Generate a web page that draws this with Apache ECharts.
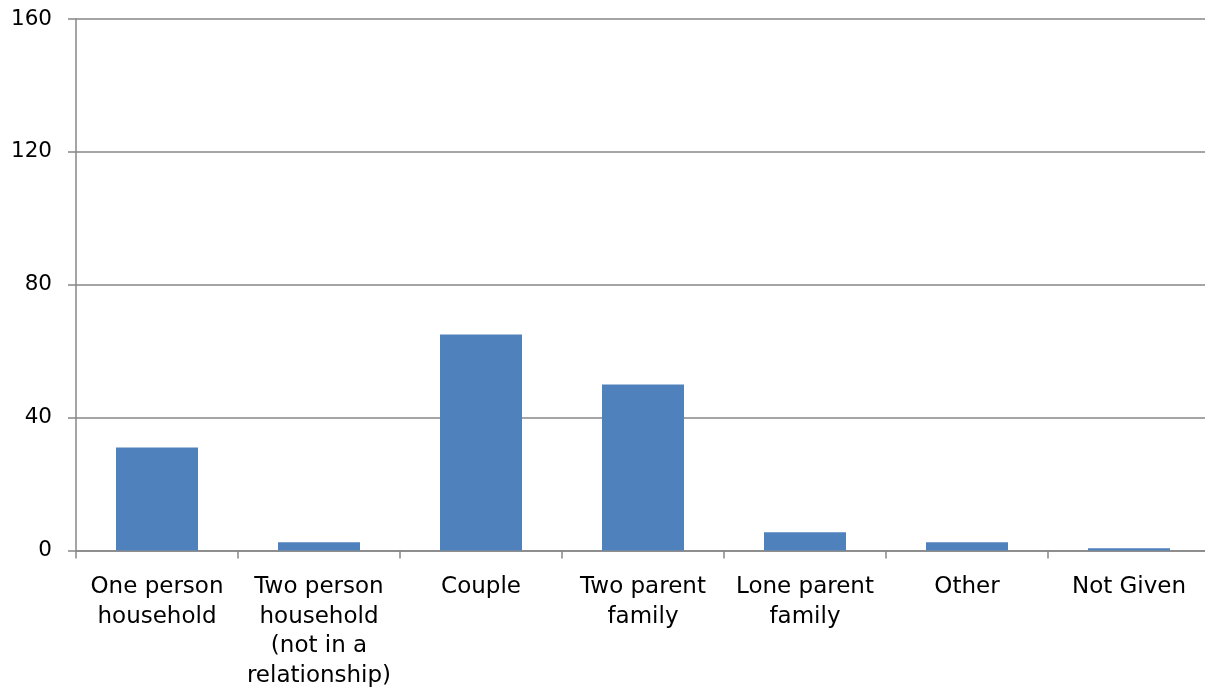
<!DOCTYPE html>
<html>
<head>
<meta charset="utf-8">
<script src="https://cdn.jsdelivr.net/npm/echarts@6/dist/echarts.min.js"></script>
<style>
  html, body { margin: 0; padding: 0; background: #fff; overflow: hidden; }
  /* plot area runs a few pixels past the right edge of the window */
  #chart { width: 1210px; height: 695px; }
</style>
</head>
<body>
<div id="chart"></div>
<script>
// Household types (line breaks as shown under the axis)
const categories = [
  'One person\nhousehold',
  'Two person\nhousehold\n(not in a\nrelationship)',
  'Couple',
  'Two parent\nfamily',
  'Lone parent\nfamily',
  'Other',
  'Not Given'
];
const counts = [31, 2.5, 65, 50, 5.5, 2.5, 0.7];
const yTicks = [0, 40, 80, 120, 160];

const FONT = '"DejaVu Sans", Verdana, sans-serif';
const AXIS_GREY = '#878787';

const chart = echarts.init(document.getElementById('chart'), null, { renderer: 'canvas' });
chart.setOption({
  animation: false,
  backgroundColor: '#ffffff',
  grid: { left: 76, top: 19, right: 0, bottom: 144.5, containLabel: false },
  xAxis: {
    type: 'category',
    data: categories,
    axisLine: { show: true, lineStyle: { color: AXIS_GREY, width: 1.5 } },
    axisTick: { show: true, length: 8, alignWithLabel: false, lineStyle: { color: AXIS_GREY, width: 1.5 } },
    axisLabel: {
      interval: 0,
      margin: 22,
      color: '#000',
      fontFamily: FONT,
      fontSize: 23,
      lineHeight: 29.5,
      align: 'center'
    }
  },
  yAxis: {
    type: 'value',
    min: yTicks[0],
    max: yTicks[yTicks.length - 1],
    interval: yTicks[1] - yTicks[0],
    axisLine: { show: true, lineStyle: { color: AXIS_GREY, width: 1.5 } },
    axisTick: { show: true, length: 8, lineStyle: { color: AXIS_GREY, width: 1.5 } },
    splitLine: { show: true, lineStyle: { color: AXIS_GREY, width: 1.5 } },
    axisLabel: {
      margin: 24,
      color: '#000',
      fontFamily: FONT,
      fontSize: 21.5
    }
  },
  series: [{
    type: 'bar',
    data: counts,
    barWidth: 82,
    itemStyle: { color: '#4F81BD' }
  }]
});
</script>
</body>
</html>
